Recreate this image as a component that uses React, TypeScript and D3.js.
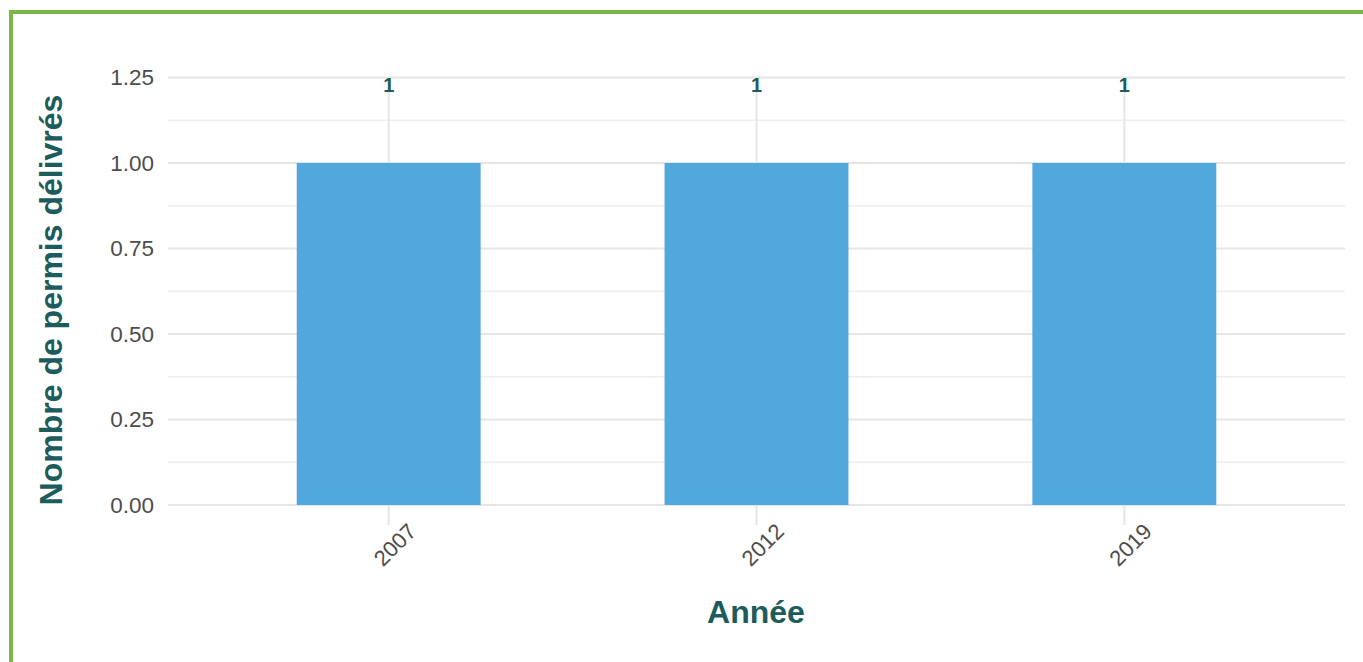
import React from "react";
import * as d3 from "d3";

const years = ["2007", "2012", "2019"];
const counts = [1, 1, 1];
const yTicks = [0, 0.25, 0.5, 0.75, 1.0, 1.25];
const yMinor = [0.125, 0.375, 0.625, 0.875, 1.125];

export default function App() {
  const W = 1363, H = 662;
  const left = 168, right = 1345, top = 77.5, bottom = 505;
  const x = d3.scaleLinear().domain([0.4, 3.6]).range([left, right]);
  const y = d3.scaleLinear().domain([0, 1.25]).range([bottom, top]);
  const teal = "#1d5c5c";
  const font = "Liberation Sans, Arial, Helvetica, sans-serif";
  return (
    <svg width={W} height={H} style={{ position: "absolute", left: 0, top: 0 }} fontFamily={font}>
      <rect x={0} y={0} width={W} height={H} fill="#fff" />
      <rect x={11} y={12} width={W + 20} height={H + 20} fill="none" stroke="#7ab648" strokeWidth={4} />
      {yMinor.map((v) => (
        <line key={"m" + v} x1={left} x2={right} y1={y(v)} y2={y(v)} stroke="#ededed" strokeWidth={1.3} />
      ))}
      {yTicks.map((v) => (
        <line key={"g" + v} x1={left} x2={right} y1={y(v)} y2={y(v)} stroke="#e6e6e6" strokeWidth={2} />
      ))}
      {years.map((yr, i) => (
        <line key={"v" + yr} x1={x(i + 1)} x2={x(i + 1)} y1={top} y2={bottom + 20} stroke="#e6e6e6" strokeWidth={2} />
      ))}
      {years.map((yr, i) => (
        <rect key={"b" + yr} x={x(i + 1 - 0.25)} width={x(i + 1.25) - x(i + 0.75)} y={y(counts[i])} height={y(0) - y(counts[i])} fill="#51a8dc" />
      ))}
      {years.map((yr, i) => (
        <text key={"l" + yr} x={x(i + 1)} y={92} textAnchor="middle" fontSize={20} fontWeight="bold" fill={teal}>
          {counts[i]}
        </text>
      ))}
      {yTicks.map((v) => (
        <text key={"t" + v} x={left - 14} y={y(v)} dy="0.35em" textAnchor="end" fontSize={22.5} fill="#4d4d4d">
          {d3.format(".2f")(v)}
        </text>
      ))}
      {years.map((yr, i) => (
        <text key={"x" + yr} transform={`translate(${x(i + 1) + 18},${522}) rotate(-45)`} textAnchor="end" dy="0.7em" fontSize={22} fill="#4d4d4d">
          {yr}
        </text>
      ))}
      <text transform={`translate(62,300) rotate(-90)`} textAnchor="middle" fontSize={32} fontWeight="bold" fill={teal}>
        Nombre de permis délivrés
      </text>
      <text x={756} y={623} textAnchor="middle" fontSize={32} fontWeight="bold" fill={teal}>
        Année
      </text>
    </svg>
  );
}
